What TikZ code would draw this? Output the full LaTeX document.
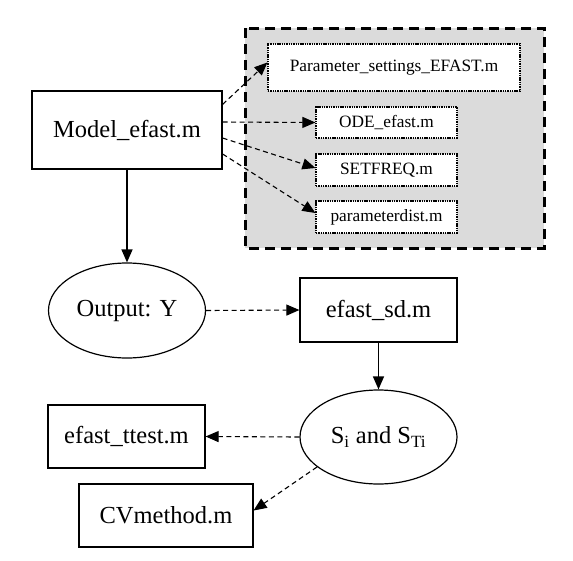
\documentclass[tikz,border=0pt]{standalone}
\usepackage{fontspec}
\setmainfont{Liberation Serif}
\usetikzlibrary{arrows.meta,shapes.geometric,calc}
\begin{document}
\begin{tikzpicture}[x=1pt,y=-1pt,
  bigfont/.style={font=\fontsize{24.5}{28}\selectfont},
  smallfont/.style={font=\fontsize{17.3}{20}\selectfont},
  mainbox/.style={draw,line width=1.2pt,rectangle,inner sep=0pt,bigfont,fill=white},
  mainell/.style={draw,line width=1.2pt,ellipse,inner sep=0pt,bigfont,fill=white},
  subbox/.style={draw,line width=1.2pt,dash pattern=on 1.4pt off 0.9pt,rectangle,inner sep=0pt,smallfont,fill=white},
  tip/.style={-{Triangle[length=13pt,width=11pt]}},
  dashedge/.style={tip,line width=1.1pt,dash pattern=on 5pt off 3.5pt},
  solidedge/.style={tip,line width=1.4pt},
  grouping/.style={draw,line width=3pt,dash pattern=on 10pt off 6pt,fill=black!14}
]
\useasboundingbox (0,0) rectangle (573,560);
\draw[grouping] (245,28) rectangle (544,248);

\node[mainbox,minimum width=190pt,minimum height=78pt] (model) at (127,130) {Model\_efast.m};
\node[subbox,minimum width=252pt,minimum height=47pt] (pset) at (394,67.5) {Parameter\_settings\_EFAST.m};
\node[subbox,minimum width=141pt,minimum height=31pt] (ode) at (386.5,122.5) {ODE\_efast.m};
\node[subbox,minimum width=141pt,minimum height=32pt] (setfreq) at (386.5,170) {SETFREQ.m};
\node[subbox,minimum width=141pt,minimum height=32pt] (pdist) at (386.5,217) {parameterdist.m};

\node[mainell,minimum width=157pt,minimum height=95pt] (output) at (127,310.5) {Output: Y};
\node[mainbox,minimum width=157pt,minimum height=64pt] (sd) at (378.5,310) {efast\_sd.m};
\node[mainell,minimum width=157pt,minimum height=94pt] (S) at (378.5,437) {S\textsubscript{i} and S\textsubscript{Ti}};
\node[mainbox,minimum width=157pt,minimum height=63pt] (ttest) at (126.5,436.5) {efast\_ttest.m};
\node[mainbox,minimum width=174pt,minimum height=63pt] (cv) at (166,515.5) {CVmethod.m};

\draw[dashedge] ($(model.north east)+(0,14)$) -- ($(pset.west)+(0,-5)$);
\draw[dashedge] ($(model.east)+(0,-8)$) -- (ode.west);
\draw[dashedge] ($(model.east)+(0,8)$) -- ($(setfreq.west)+(0,-2)$);
\draw[dashedge] ($(model.east)+(0,24)$) -- ($(pdist.west)+(0,-4)$);
\draw[solidedge] (model.south) -- (output.north);
\draw[dashedge] (output.east) -- (sd.west);
\draw[solidedge] (sd.south) -- (S.north);
\draw[dashedge] (S.west) -- (ttest.east);
\draw[dashedge] (S.206) -- ($(cv.east)+(0,-5)$);
\end{tikzpicture}
\end{document}
